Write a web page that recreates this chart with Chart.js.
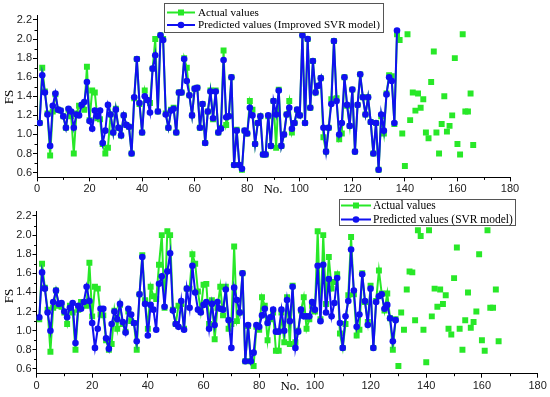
<!DOCTYPE html>
<html><head><meta charset="utf-8">
<script src="https://cdn.jsdelivr.net/npm/chart.js@4.4.0/dist/chart.umd.min.js"></script>
<style>
html,body{margin:0;padding:0;background:#fff;}
#wrap{position:relative;width:550px;height:397px;overflow:hidden;}
canvas{position:absolute;left:0;top:0;}
</style></head><body>
<div id="wrap"><canvas id="c1" width="550" height="397"></canvas><canvas id="c2" width="550" height="397"></canvas></div>
<script>
// ---------------- data ----------------
const actualValues = [
 1.12,1.70,1.45,1.22,0.78,1.24,1.42,1.26,1.25,1.19,
 1.07,1.26,1.19,0.80,1.22,1.30,1.30,1.26,1.71,1.15,
 1.46,1.44,1.17,1.16,0.90,0.80,0.86,1.21,1.02,1.27,
 1.07,0.99,1.20,1.10,1.08,0.80,1.38,1.79,1.32,1.02,
 1.46,1.36,1.33,1.69,2.00,1.24,2.04,2.00,1.22,1.07,
 1.26,1.28,1.02,1.44,1.44,1.80,1.70,1.41,1.20,1.48,
 1.49,1.07,1.32,0.91,1.24,1.46,1.16,1.46,1.02,1.07,
 1.88,1.10,1.19,1.60,0.68,1.05,0.68,0.63,1.04,1.01,
 1.35,1.26,0.90,1.12,1.19,0.79,0.79,1.19,0.88,1.35,
 0.86,1.47,0.88,1.00,1.21,1.35,1.02,1.12,1.26,1.20,
 2.04,1.12,2.00,1.28,1.77,1.44,1.51,1.59,0.97,0.82,
 1.07,1.37,1.98,1.38,0.95,1.01,1.60,1.30,1.09,1.47,
 0.82,1.31,1.63,1.39,1.21,1.39,1.13,0.80,1.12,0.63,
 1.19,1.01,1.43,1.62,1.61,1.11,2.05,1.99,1.01,0.67,
 2.05,1.15,1.44,1.25,1.43,1.28,1.37,1.02,0.96,1.55,
 1.87,1.02,0.80,1.11,1.40,1.03,1.09,1.20,1.80,0.90,
 0.79,2.05,1.24,1.24,1.43,0.89
];
const predictedImproved = [
 1.12,1.62,1.44,1.21,0.88,1.30,1.43,1.26,1.25,1.19,
 1.07,1.27,1.24,1.07,1.21,1.20,1.31,1.34,1.55,1.14,
 1.06,1.25,1.19,1.25,0.91,1.04,1.31,1.21,1.02,1.26,
 1.07,0.99,1.20,1.10,1.08,0.80,1.39,1.79,1.33,1.02,
 1.40,1.36,1.23,1.69,1.83,1.24,2.04,1.99,1.21,1.07,
 1.25,1.27,1.02,1.44,1.44,1.79,1.56,1.41,1.20,1.48,
 1.49,1.07,1.32,0.91,1.24,1.45,1.17,1.45,1.02,1.06,
 1.78,1.18,1.19,1.60,0.68,1.04,0.68,0.64,1.04,1.01,
 1.28,1.20,0.90,1.12,1.19,0.79,0.79,1.20,0.88,1.35,
 1.21,1.46,0.88,1.00,1.21,1.28,1.06,1.12,1.26,1.20,
 2.04,1.12,2.00,1.28,1.77,1.44,1.51,1.59,1.07,0.82,
 1.07,1.32,1.98,1.35,1.00,1.12,1.60,1.31,1.09,1.47,
 0.82,1.31,1.63,1.39,1.21,1.39,1.13,0.80,1.12,0.63,
 1.21,1.04,1.42,1.60,1.56,1.12,2.09
];
const predictedSVR = [
 1.14,1.61,1.44,1.19,1.00,1.30,1.42,1.28,1.29,1.20,
 1.14,1.24,1.29,0.87,1.26,1.23,1.30,1.46,1.31,1.08,
 0.82,1.02,1.23,1.23,0.92,0.81,1.07,1.20,1.12,1.28,
 1.09,0.98,1.23,1.17,1.08,0.89,1.38,1.77,1.28,0.95,
 1.27,1.22,1.01,1.49,1.57,1.25,1.62,1.81,1.21,1.07,
 1.04,1.31,1.01,1.44,1.24,1.68,1.40,1.22,1.19,1.27,
 1.30,1.02,1.28,1.06,1.30,1.23,1.22,1.43,1.11,0.82,
 1.45,1.32,1.19,1.60,0.68,1.06,0.68,0.77,1.06,1.04,
 1.16,1.23,1.08,1.14,1.22,0.99,0.99,1.22,1.00,1.32,
 1.10,1.46,0.82,0.99,1.22,1.15,1.15,1.15,1.30,1.22,
 1.68,1.10,1.69,1.19,1.54,1.15,1.29,1.55,1.08,0.82,
 1.15,1.31,1.85,1.42,1.04,1.17,1.59,1.31,1.06,1.44,
 0.82,1.30,1.36,1.38,1.23,1.27,1.13,0.89,1.11
];
const xTickValues = [0,20,40,60,80,100,120,140,160,180];
const yTickValues = [0.6,0.8,1.0,1.2,1.4,1.6,1.8,2.0,2.2];
const xMinorValues = [10,30,50,70,90,110,130,150,170];
const yMinorValues = [0.7,0.9,1.1,1.3,1.5,1.7,1.9,2.1];
const legendActual = 'Actual values';
const legendImproved = 'Predicted values (Improved SVR model)';
const legendSVR = 'Predicted values (SVR model)';
const axisTitleX = 'No.';
const axisTitleY = 'FS';

// ---------------- styling ----------------
const GREEN = 'rgb(40,232,40)';
const BLUE = 'rgb(16,16,240)';
const SANS = '"Liberation Sans", Arial, sans-serif';
const SERIF = '"Liberation Serif", "Times New Roman", serif';

function pts(arr, startIndex) {
  return arr.map((v, k) => ({x: startIndex + k, y: v}));
}

function extrasPlugin(o) {
  return {
    id: 'extras',
    afterDraw(chart) {
      const ctx = chart.ctx, xs = chart.scales.x, ys = chart.scales.y, a = chart.chartArea;
      ctx.save();
      ctx.strokeStyle = '#000'; ctx.lineWidth = 1;
      xMinorValues.forEach(v => {
        const px = Math.round(xs.getPixelForValue(v)) + 0.5;
        ctx.beginPath(); ctx.moveTo(px, a.bottom); ctx.lineTo(px, a.bottom + 2.5); ctx.stroke();
      });
      yMinorValues.forEach(v => {
        const py = Math.round(ys.getPixelForValue(v)) + 0.5;
        ctx.beginPath(); ctx.moveTo(a.left, py); ctx.lineTo(a.left - 2.5, py); ctx.stroke();
      });
      // axis titles
      ctx.fillStyle = '#000';
      ctx.font = '13px ' + SERIF;
      ctx.textAlign = 'center'; ctx.textBaseline = 'middle';
      ctx.fillText(axisTitleX, o.xTitle[0], o.xTitle[1]);
      ctx.save(); ctx.translate(o.yTitle[0], o.yTitle[1]); ctx.rotate(-Math.PI / 2);
      ctx.fillText(axisTitleY, 0, 0); ctx.restore();
      // legend
      const L = o.legend;
      ctx.fillStyle = '#fff';
      ctx.fillRect(L.x, L.y, L.w, L.h);
      ctx.strokeStyle = '#555'; ctx.lineWidth = 1;
      ctx.strokeRect(L.x + 0.5, L.y + 0.5, L.w, L.h);
      ctx.font = '12px ' + SERIF;
      const longest = L.rows[L.rows.length - 1].text;
      const fs = 12 * L.textW / ctx.measureText(longest).width;
      ctx.font = fs.toFixed(2) + 'px ' + SERIF;
      ctx.textAlign = 'left'; ctx.textBaseline = 'middle';
      L.rows.forEach(r => {
        ctx.strokeStyle = r.color; ctx.lineWidth = 2;
        ctx.beginPath(); ctx.moveTo(L.lx0, r.y); ctx.lineTo(L.lx1, r.y); ctx.stroke();
        const cx = (L.lx0 + L.lx1) / 2;
        ctx.fillStyle = r.color;
        if (r.marker === 'rect') { ctx.fillRect(cx - 3, r.y - 3, 6, 6); }
        else { ctx.beginPath(); ctx.arc(cx, r.y, 3.3, 0, Math.PI * 2); ctx.fill(); }
        ctx.fillStyle = '#000';
        ctx.fillText(r.text, L.tx, r.y + 0.5);
      });
      ctx.restore();
    }
  };
}

function makeChart(id, o) {
  const datasets = [
    {data: pts(o.pred, 1), showLine: true, borderColor: BLUE, backgroundColor: BLUE,
     borderWidth: 2, pointStyle: 'circle', pointRadius: 3.3, pointBorderWidth: 0, order: 0},
    {data: pts(actualValues.slice(0, o.trainCount), 1), showLine: true, borderColor: GREEN, backgroundColor: GREEN,
     borderWidth: 2, pointStyle: 'rect', pointRadius: 4.2, pointBorderWidth: 0, order: 1},
    {data: pts(actualValues.slice(o.trainCount), o.trainCount + 1), showLine: false, borderColor: GREEN, backgroundColor: GREEN,
     pointStyle: 'rect', pointRadius: 4.2, pointBorderWidth: 0, order: 2}
  ];
  return new Chart(document.getElementById(id), {
    type: 'scatter',
    data: {datasets},
    options: {
      responsive: false, animation: false, devicePixelRatio: 1,
      layout: {padding: o.padding},
      elements: {line: {tension: 0}},
      plugins: {legend: {display: false}, tooltip: {enabled: false}},
      scales: {
        x: {type: 'linear', min: 0, max: 180,
            afterFit: s => { s.height = o.xAxisH; },
            afterBuildTicks: s => { s.ticks = xTickValues.map(v => ({value: v})); },
            grid: {drawOnChartArea: false, drawTicks: true, tickLength: 4, color: '#000', tickColor: '#000'},
            border: {display: true, color: '#000', width: 1},
            ticks: {padding: o.xTickPad, color: '#222', font: {family: SANS, size: 11}, maxRotation: 0,
                    callback: v => String(v)}},
        y: {type: 'linear', min: 0.55, max: 2.25,
            afterFit: s => { s.width = o.yAxisW; },
            afterBuildTicks: s => { s.ticks = yTickValues.map(v => ({value: v})); },
            grid: {drawOnChartArea: false, drawTicks: true, tickLength: 4, color: '#000', tickColor: '#000'},
            border: {display: true, color: '#000', width: 1},
            ticks: {padding: 1, color: '#222', font: {family: SANS, size: 11},
                    callback: v => Number(v).toFixed(1)}}
      }
    },
    plugins: [extrasPlugin(o)]
  });
}

makeChart('c1', {
  pred: predictedImproved, trainCount: predictedImproved.length,
  padding: {left: 0, top: 15.2, right: 40, bottom: 202},
  xAxisH: 17.6, yAxisW: 37, xTickPad: 1,
  xTitle: [273, 190], yTitle: [10, 97],
  legend: {x: 164, y: 3, w: 219, h: 29, lx0: 167, lx1: 195, tx: 198, textW: 182,
           rows: [{y: 12.5, color: GREEN, marker: 'rect', text: legendActual},
                  {y: 25, color: BLUE, marker: 'circle', text: legendImproved}]}
});
makeChart('c2', {
  pred: predictedSVR, trainCount: predictedSVR.length,
  padding: {left: 0, top: 211.2, right: 12.4, bottom: 0},
  xAxisH: 23.3, yAxisW: 36.5, xTickPad: 2,
  xTitle: [290, 387], yTitle: [10, 296],
  legend: {x: 339, y: 199, w: 176, h: 26, lx0: 341, lx1: 371, tx: 373, textW: 140,
           rows: [{y: 205.5, color: GREEN, marker: 'rect', text: legendActual},
                  {y: 219.5, color: BLUE, marker: 'circle', text: legendSVR}]}
});
</script>
</body></html>
